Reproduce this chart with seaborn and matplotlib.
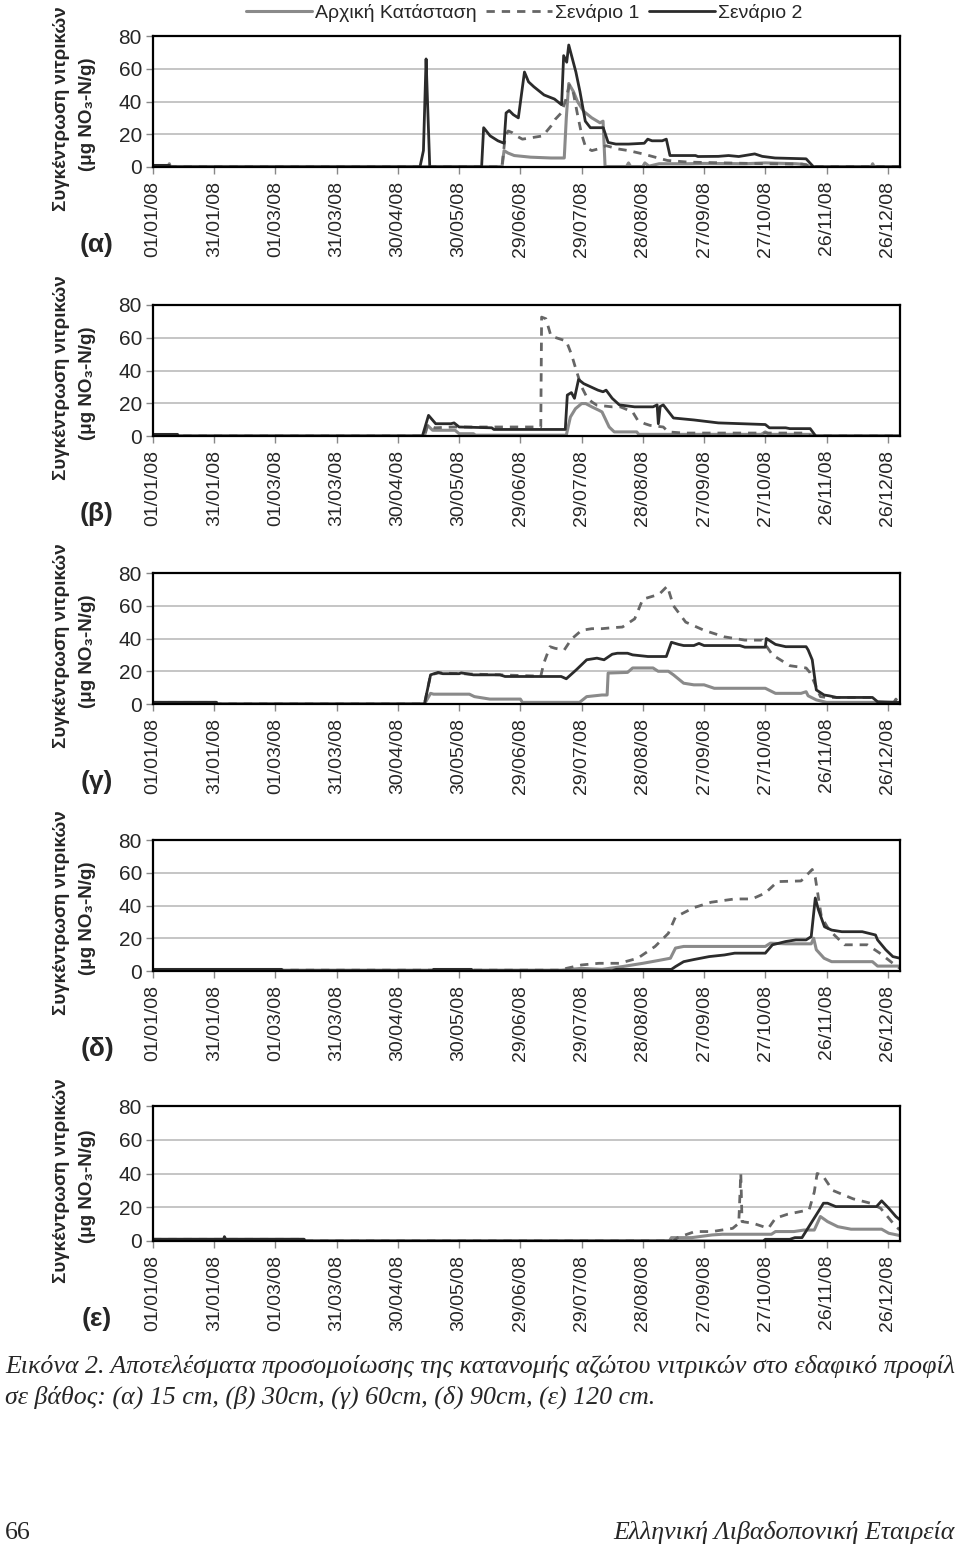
import numpy as np
import pandas as pd
import matplotlib
matplotlib.use("Agg")
import matplotlib.pyplot as plt
from matplotlib.lines import Line2D
import seaborn as sns

sns.set_theme(style="white")
plt.rcParams['font.family'] = ['Liberation Sans', 'DejaVu Sans']

# x axis: day of year 2008, ticks every 30 days
tick_days = [0, 30, 60, 90, 120, 150, 180, 210, 240, 270, 300, 330, 360]
tick_labels = ["01/01/08", "31/01/08", "01/03/08", "31/03/08", "30/04/08", "30/05/08",
               "29/06/08", "29/07/08", "28/08/08", "27/09/08", "27/10/08", "26/11/08", "26/12/08"]
series_names = ["Αρχική Κατάσταση", "Σενάριο 1", "Σενάριο 2"]
panel_tags = ["(α)", "(β)", "(γ)", "(δ)", "(ε)"]

# ---- (α) 15 cm ----
a_base_day = [0, 7.5, 8, 8.5, 171, 172, 174, 177, 185, 195, 201.5, 202.5, 203.7, 206, 208, 211, 215, 219,
              220.5, 221.5, 232, 233, 234, 240, 241, 243, 248, 262, 270, 290, 300, 315, 320, 321, 352,
              352.6, 353.3, 366]
a_base_val = [0.5, 0.5, 2, 0.3, 0.3, 10, 8.5, 7, 6, 5.5, 5.5, 30, 51, 46, 40, 34, 30, 27,
              28, 0.3, 0.3, 2.5, 0.3, 0.3, 2.5, 0.5, 2, 2, 2.2, 2, 2.5, 2, 1.5, 0.2, 0.2,
              2, 0.2, 0.2]
a_s1_day = [0, 171, 172.5, 174, 176, 178, 181, 186, 191, 195, 197, 200, 202, 204, 206, 208, 210, 212,
            215, 218, 222, 228, 233, 240, 246, 252, 262, 280, 300, 318, 323, 366]
a_s1_val = [0.3, 0.3, 18, 22, 21, 19, 17, 18, 19, 25, 29, 33, 40, 50, 45, 32, 20, 12,
            10, 11, 13, 11, 10, 8, 6, 4, 3, 2.5, 2, 1.8, 0.3, 0.3]
a_s2_day = [0, 8, 8.5, 130.8, 132.5, 133.8, 134.5, 135.6, 161, 162, 165.2, 169, 172, 173, 174.5, 176.5,
            179, 182, 184, 186.6, 191.6, 196.7, 200.2, 201.2, 202.7, 203.7, 205.5, 207.2, 209.2, 211.8,
            214.3, 220.6, 223, 226.8, 233, 240.7, 242.4, 244.5, 249.5, 251.5, 253.3, 265.8, 267, 277,
            282, 287, 294.8, 298.5, 304.8, 320, 323.7, 366]
a_s2_val = [1, 1, 0, 0, 10, 66, 40, 0, 0, 24, 19, 16, 14.5, 33, 34.5, 32,
            30, 58, 52, 49, 44, 41.5, 38, 68, 64, 74.5, 66, 58, 46, 28,
            24, 24, 15, 14, 14, 14.5, 17, 16, 16, 17, 7, 7, 6.4, 6.5,
            7, 6.4, 8, 6.5, 5.5, 5, 0, 0]

# ---- (β) 30 cm ----
b_base_day = [0, 12, 12.5, 133, 134.5, 137, 148, 150, 157, 158, 202.5, 204.5, 207, 210, 212, 215, 218.5,
              220, 223.5, 226, 237, 238, 298, 300, 302, 322, 324, 366]
b_base_val = [0.5, 0.5, 0, 0, 6.5, 3.5, 3.5, 1.4, 1.4, 0.5, 0.5, 11.6, 16.7, 19.8, 19.8, 17.8, 15.7,
              14.7, 5.5, 2.5, 2.5, 1, 1, 2.5, 1, 1, 0, 0]
b_s1_day = [0, 12, 12.5, 133, 134.5, 138, 147, 160, 172, 181, 190, 190.4, 192.5, 195, 197.5, 202.5, 205,
            207.5, 210, 212.5, 215, 217.5, 225, 229, 235, 237.5, 241, 243.5, 250, 252.5, 260, 320, 322, 366]
b_s1_val = [0.5, 0.5, 0, 0, 7, 5, 5.5, 5.5, 5.5, 5.5, 5.5, 72.6, 71.6, 61, 60, 58, 50,
            39.6, 30, 23.9, 20.8, 18.8, 17.8, 17.8, 14.7, 9.6, 7.5, 6.5, 5.5, 2.5, 1.8, 1.8, 0, 0]
b_s2_day = [0, 12, 12.5, 132, 135, 138.5, 146, 147.5, 150, 166, 167, 202, 203, 205, 206.5, 208.5, 211,
            214.5, 218, 220.5, 222, 225, 228.5, 236, 245, 247, 247.6, 248.5, 250, 255, 265, 277, 300,
            302, 310, 312, 322, 324.7, 366]
b_s2_val = [1, 1, 0, 0, 12.6, 7.5, 7.5, 8, 5.5, 5, 4, 4, 25, 26.5, 23, 34.5, 32,
            30, 28, 27, 28, 23, 19, 17.8, 17.8, 19, 7.5, 18, 19, 11, 9.8, 8, 7,
            5, 5, 4.5, 4.5, 0, 0]

# ---- (γ) 60 cm ----
c_base_day = [0, 31, 31.5, 133, 136, 137.5, 155, 157.5, 165, 180, 181, 209, 212.5, 220, 222.5, 223, 232.5,
              235, 245, 247.5, 252.5, 255, 260, 265, 270, 275, 300, 305, 317.5, 320, 321, 325, 330,
              355, 366]
c_base_val = [1, 1, 0, 0, 6.5, 6, 6, 4.5, 3, 3, 1, 1, 4.5, 5.5, 5.5, 18.9, 19.3,
              22, 22, 20, 20, 17.8, 12.7, 11.7, 11.7, 9.6, 9.6, 6.5, 6.5, 7.5, 5, 2.5, 1,
              1, 0.5]
c_s1_day = [0, 31, 31.5, 133, 136, 140, 150, 170, 190, 191.5, 194.5, 197, 201.5, 205, 210, 215, 220, 225,
            230, 236, 240, 248, 252, 255, 261, 270, 280, 290, 298.5, 303.5, 312, 320, 322, 327, 330,
            352.5, 355, 363, 364, 365, 366]
c_s1_val = [1, 1, 0, 0, 17.8, 19, 18.5, 17.8, 17, 25, 35, 34, 33, 39.6, 45, 46, 46, 46.6,
            47, 52, 64, 67, 72, 60, 50, 45, 41, 39, 39, 30, 23.4, 22, 19, 4.5, 4,
            4, 1, 1, 3, 1, 1]
c_s2_day = [0, 31, 31.5, 133, 136, 139.7, 142, 150, 151, 157, 170, 172.5, 200, 202.5, 207.5, 212.5, 217.5,
            221, 225, 227.5, 232.5, 235, 242.5, 251.5, 254, 257.5, 260, 265, 267.5, 270, 287.5, 290,
            300, 300.5, 305, 310, 320, 321, 323, 325, 328.8, 331.3, 335, 352.5, 355, 366]
c_s2_val = [1, 1, 0, 0, 17.8, 19.3, 18.5, 18.5, 19, 17.8, 17.8, 16.8, 16.8, 15.4, 21, 27, 28,
            27, 30.4, 31, 31, 30, 29, 29, 37.7, 36.4, 35.7, 35.7, 37, 35.7, 35.7, 34.7,
            34.7, 40, 36.4, 35, 35, 33, 27, 8.6, 5.5, 5, 4, 4, 1.4, 1]

# ---- (δ) 90 cm ----
d_base_day = [0, 200, 210, 220, 230, 240, 247.5, 253.5, 256, 260, 300, 302.5, 310, 322.5, 323.7, 325,
              328.8, 332.5, 352.5, 355, 366]
d_base_val = [0.5, 0.5, 1.6, 1, 2.7, 4.7, 6.4, 7.8, 14, 15, 15, 17, 16.6, 16.6, 20, 13,
              7.8, 5.7, 5.7, 3, 3]
d_s1_day = [0, 200, 202.5, 210, 218.5, 228.5, 237.5, 246, 252.5, 256, 265, 273.5, 285, 293.5, 300, 306,
            317.5, 323, 324.5, 327.5, 331.3, 338.8, 350, 356, 362.5, 366]
d_s1_val = [0.5, 0.5, 1.6, 3.7, 4.7, 4.7, 7.8, 15, 23, 33, 38.7, 42, 44, 44, 47.6, 54.6,
            55, 62, 57, 33, 25, 16, 16, 11, 4.7, 1.6]
d_s2_day = [0, 63, 63.5, 137, 137.5, 156, 156.5, 225, 227, 254, 256, 260, 265, 272.5, 280, 285, 300,
            303.5, 310, 315, 320, 322.5, 324.5, 326, 329, 332.5, 337.5, 347.5, 354, 355, 359, 362.5, 366]
d_s2_val = [1, 1, 0.2, 0.2, 1, 1, 0.2, 0.2, 1, 1, 2.7, 5.7, 7, 8.8, 9.8, 10.9, 10.9,
            16, 18, 19, 19, 21, 44.6, 37.5, 27, 25, 24, 24, 22, 19, 13, 8.8, 7.8]

# ---- (ε) 120 cm ----
e_base_day = [0, 74, 74.5, 253, 254, 264, 274, 279, 303, 305, 314, 319, 324, 327, 330.5, 335.5, 342,
              357, 360.5, 366]
e_base_val = [1, 1, 0, 0, 2, 2, 3.6, 4, 4, 5.6, 5.6, 6.5, 6.5, 14.5, 11.5, 8.5, 7,
              7, 4.6, 3.2]
e_s1_day = [0, 74, 74.5, 255, 257, 265.5, 274, 284, 287, 288, 288.6, 294, 301.5, 305, 311, 321.5, 324,
            325.4, 328, 333, 343, 351.5, 356.5, 364, 366]
e_s1_val = [1, 1, 0, 0, 2, 5.6, 5.6, 7.5, 10.5, 40, 11.5, 10.5, 7.5, 13.5, 15.9, 18.5, 29,
            40, 39, 30, 25, 22.4, 19.4, 8.5, 6.5]
e_s2_day = [0, 34.6, 35, 35.6, 74, 74.5, 299, 300, 312, 314.5, 318, 327, 328.5, 330.5, 334.5, 354.5,
            357, 360.5, 364, 366]
e_s2_val = [1, 1, 2.6, 1, 1, 0, 0, 1, 1, 2, 2, 19.4, 22.4, 22.4, 20.4, 20.4,
            23.8, 19.4, 14.5, 12.5]

panels = [
    [(a_base_day, a_base_val), (a_s1_day, a_s1_val), (a_s2_day, a_s2_val)],
    [(b_base_day, b_base_val), (b_s1_day, b_s1_val), (b_s2_day, b_s2_val)],
    [(c_base_day, c_base_val), (c_s1_day, c_s1_val), (c_s2_day, c_s2_val)],
    [(d_base_day, d_base_val), (d_s1_day, d_s1_val), (d_s2_day, d_s2_val)],
    [(e_base_day, e_base_val), (e_s1_day, e_s1_val), (e_s2_day, e_s2_val)],
]

colors = ["#8a8a8a", "#666666", "#2b2b2b"]
widths = [2.2, 2.0, 2.0]
dash_styles = [(None, None), (3, 2.5), (None, None)]

W, H = 960, 1548
fig = plt.figure(figsize=(9.6, 15.48), dpi=100)

# axes boxes in pixels: left, right, top, bottom
left_px, right_px = 153, 900
tops = [36, 305, 573, 840, 1106]
bottoms = [167, 436, 704, 971, 1241]

for i, series in enumerate(panels):
    top, bot = tops[i], bottoms[i]
    ax = fig.add_axes([left_px / W, 1 - bot / H, (right_px - left_px) / W, (bot - top) / H])
    for k, (days, vals) in enumerate(series):
        df = pd.DataFrame({"day": days, "value": vals})
        sns.lineplot(data=df, x="day", y="value", ax=ax, color=colors[k], linewidth=widths[k],
                     sort=False, estimator=None)
        if k == 1:
            ax.lines[-1].set_dashes(dash_styles[k])
    ax.set_xlim(0, 366)
    ax.set_ylim(0, 80)
    ax.set_yticks([0, 20, 40, 60, 80])
    ax.set_xticks(tick_days)
    ax.set_xticklabels(tick_labels, rotation=90, fontsize=14)
    ax.tick_params(axis="y", labelsize=15, left=True, length=5, width=1, color="#888888", pad=3)
    ax.tick_params(axis="x", bottom=True, length=5, width=1, color="#888888", pad=5)
    ax.set_xlabel("")
    ax.set_ylabel("")
    for y in [20, 40, 60]:
        ax.axhline(y, color="#b5b5b5", linewidth=1.1, zorder=0)
    for sp in ax.spines.values():
        sp.set_color("black")
        sp.set_linewidth(1.6)
    mid = (top + bot) / 2 + 7
    fig.text(61 / W, 1 - mid / H, "Συγκέντρωση νιτρικών", rotation=90, ha="center", va="center",
             fontsize=13.5, fontweight="bold")
    fig.text(88 / W, 1 - (mid + 6) / H, "(μg NO₃-N/g)", rotation=90, ha="center", va="center",
             fontsize=13.5, fontweight="bold")
    fig.text(97 / W, 1 - (bot + 78) / H, panel_tags[i], ha="center", va="center",
             fontsize=19, fontweight="bold")

handles = [Line2D([0], [0], color=colors[k], linewidth=widths[k]) for k in range(3)]
handles[1].set_dashes(dash_styles[1])
fig.legend(handles, series_names, loc="center", bbox_to_anchor=(524 / W, 1 - 13 / H), ncol=3,
           frameon=False, fontsize=14, handlelength=3.4, handletextpad=0.15, columnspacing=0.5)

serif = ["Liberation Serif", "DejaVu Serif"]
fig.text(5 / W, 1 - 1366 / H,
         "Εικόνα 2. Αποτελέσματα προσομοίωσης της κατανομής αζώτου νιτρικών στο εδαφικό προφίλ",
         ha="left", va="center", fontsize=18.6, style="italic", family=serif)
fig.text(5 / W, 1 - 1397 / H,
         "σε βάθος: (α) 15 cm, (β) 30cm, (γ) 60cm, (δ) 90cm, (ε) 120 cm.",
         ha="left", va="center", fontsize=18.6, style="italic", family=serif)
fig.text(5 / W, 1 - 1533 / H, "66", ha="left", va="center", fontsize=18.6, family=serif)
fig.text(955 / W, 1 - 1533 / H, "Ελληνική Λιβαδοπονική Εταιρεία", ha="right", va="center",
         fontsize=18.6, style="italic", family=serif)

fig.savefig("out.png", dpi=100)
